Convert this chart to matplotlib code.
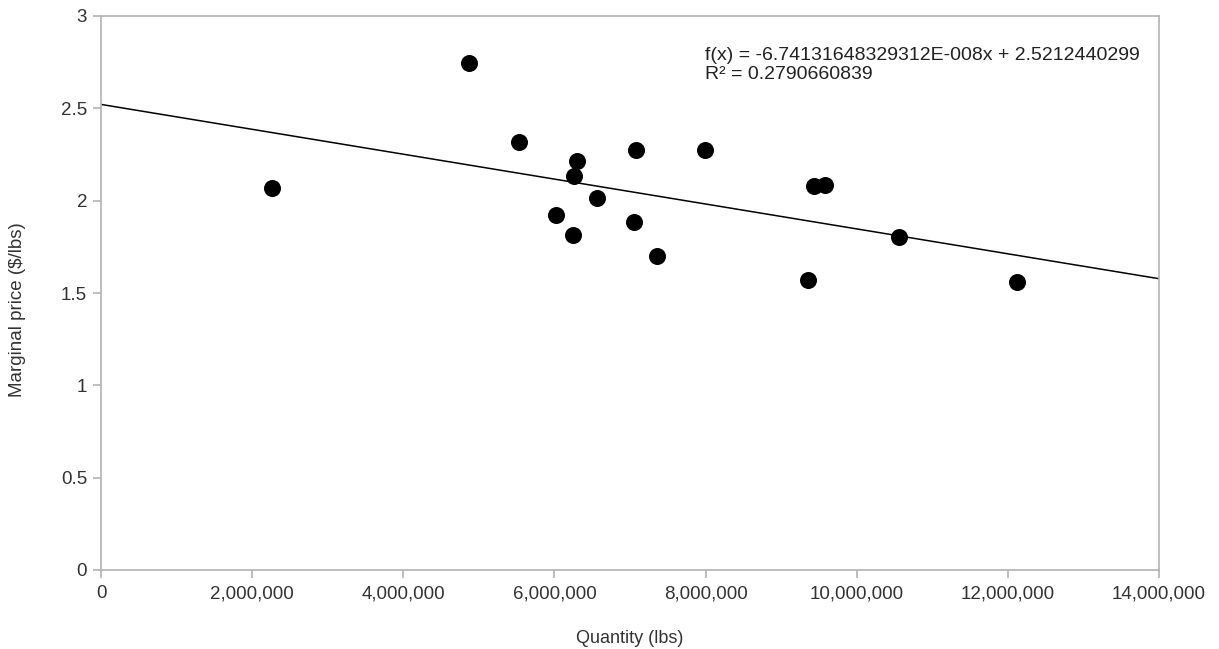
import matplotlib
matplotlib.use("Agg")
import matplotlib.pyplot as plt
import numpy as np
from matplotlib.ticker import FuncFormatter

quantity = [2263000, 4870000, 5530000, 6020000, 6300000, 6260000, 6250000, 6560000,
            7080000, 7050000, 7360000, 7990000, 9430000, 9580000, 9360000, 10560000, 12120000]
price = [2.067, 2.745, 2.317, 1.920, 2.213, 2.132, 1.812, 2.013,
         2.273, 1.883, 1.698, 2.273, 2.078, 2.083, 1.568, 1.801, 1.557]
slope = -6.74131648329312e-08
intercept = 2.5212440299
r2 = 0.2790660839

plt.rcParams['font.family'] = ['Liberation Sans', 'DejaVu Sans']

fig = plt.figure(figsize=(12.19, 6.49), dpi=100)
ax = fig.add_axes([101/1219, 1 - 570/649, (1159-101)/1219, (570-16)/649])

ax.scatter(quantity, price, s=150, color='black', zorder=3, linewidths=0)
xs = np.array([0, 14e6])
ax.plot(xs, slope * xs + intercept, color='black', lw=1.1, zorder=2)

ax.set_xlim(0, 14e6)
ax.set_ylim(0, 3)
ax.set_xticks(np.arange(0, 14e6 + 1, 2e6))
ax.set_yticks([0, 0.5, 1, 1.5, 2, 2.5, 3])
ax.xaxis.set_major_formatter(FuncFormatter(lambda v, p: f"{int(round(v)):,}"))
ax.yaxis.set_major_formatter(FuncFormatter(lambda v, p: f"{v:g}"))

for s in ax.spines.values():
    s.set_color('#b3b3b3')
    s.set_linewidth(1.2)
ax.tick_params(axis='both', colors='#b3b3b3', labelcolor='#333333', labelsize=13.5,
               length=6, width=1.2, direction='out')
ax.tick_params(axis='x', pad=5)
ax.tick_params(axis='y', pad=4)

ax.set_xlabel('Quantity (lbs)', fontsize=13, color='#333333', labelpad=20)
fig.text(18/1219, 1 - 310/649, 'Marginal price ($/lbs)', fontsize=13.5, color='#333333',
         rotation=90, ha='center', va='center')

ax.text(705/1219, 1 - 79/649,
        f"f(x) = -6.74131648329312E-008x + 2.5212440299\nR\u00b2 = {r2:.10f}",
        transform=fig.transFigure, fontsize=14, color='#222222', va='baseline',
        linespacing=1.15)

fig.savefig('out.png', dpi=100, facecolor='white')
